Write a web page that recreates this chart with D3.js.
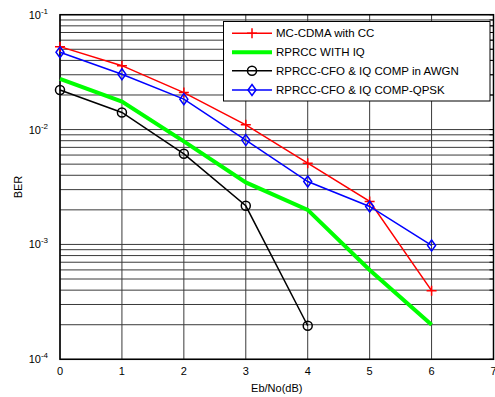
<!DOCTYPE html>
<html>
<head>
<meta charset="utf-8">
<script src="https://cdn.jsdelivr.net/npm/d3@7"></script>
<style>
  body { margin: 0; background: #fff; }
  text { font-family: 'Liberation Sans', Arial, sans-serif; }
</style>
</head>
<body>
<svg width="495" height="397"></svg>
<script>
const svg = d3.select('svg');

const snr = [0, 1, 2, 3, 4, 5, 6];
const mcCdma = [0.0527, 0.036, 0.021, 0.011, 0.0051, 0.00237, 0.000396];
const rprccIq = [0.0276, 0.0175, 0.0079, 0.00347, 0.0020, 0.0006, 0.0002];
const rprccAwgn = [0.0221, 0.0141, 0.00615, 0.00217, 0.000196];
const rprccQpsk = [0.0471, 0.0303, 0.0184, 0.0081, 0.00353, 0.00214, 0.00098];

const xTicks = [0, 1, 2, 3, 4, 5, 6, 7];
const yDecades = [-4, -3, -2, -1];

const series = [
  { name: 'MC-CDMA with CC', values: mcCdma, color: '#ff0000', width: 1.5, marker: 'plus' },
  { name: 'RPRCC WITH IQ', values: rprccIq, color: '#00ff00', width: 4, marker: 'none' },
  { name: 'RPRCC-CFO & IQ COMP in AWGN', values: rprccAwgn, color: '#000000', width: 1.5, marker: 'circle' },
  { name: 'RPRCC-CFO & IQ COMP-QPSK', values: rprccQpsk, color: '#0000ff', width: 1.5, marker: 'diamond' }
];

const margin = { left: 60, top: 14.7, right: 493.5, bottom: 359.3 };

const xScale = d3.scaleLinear().domain([0, 7]).range([margin.left, margin.right]);
const yScale = d3.scaleLog().domain([1e-4, 1e-1]).range([margin.bottom, margin.top]);

const g = svg.append('g');

// grid
const minorVals = [];
yDecades.slice(0, 3).forEach(e => {
  for (let m = 1; m <= 9; m++) minorVals.push(m * Math.pow(10, e));
});
minorVals.push(1e-1);

g.selectAll('line.hgrid').data(minorVals).join('line')
  .attr('class', 'hgrid')
  .attr('x1', margin.left).attr('x2', margin.right)
  .attr('y1', d => yScale(d)).attr('y2', d => yScale(d))
  .attr('stroke', '#3a3a3a').attr('stroke-width', 1);

g.selectAll('line.vgrid').data(xTicks).join('line')
  .attr('class', 'vgrid')
  .attr('x1', d => xScale(d)).attr('x2', d => xScale(d))
  .attr('y1', margin.top).attr('y2', margin.bottom)
  .attr('stroke', '#3a3a3a').attr('stroke-width', 1);

// tick marks on all sides (inward)
g.selectAll('line.ytickR').data(minorVals).join('line')
  .attr('x1', margin.right - 4).attr('x2', margin.right)
  .attr('y1', d => yScale(d)).attr('y2', d => yScale(d))
  .attr('stroke', '#000');

// box
g.append('rect')
  .attr('x', margin.left).attr('y', margin.top)
  .attr('width', margin.right - margin.left)
  .attr('height', margin.bottom - margin.top)
  .attr('fill', 'none').attr('stroke', '#000').attr('stroke-width', 1.5);

// x tick labels
g.selectAll('text.xt').data(xTicks).join('text')
  .attr('x', d => xScale(d)).attr('y', margin.bottom + 16)
  .attr('text-anchor', 'middle').attr('font-size', 11)
  .text(d => d);

// y tick labels
const yt = g.selectAll('text.yt').data(yDecades).join('text')
  .attr('x', margin.left - 12).attr('y', d => yScale(Math.pow(10, d)) + 4)
  .attr('text-anchor', 'end').attr('font-size', 11);
yt.append('tspan').text('10');
yt.append('tspan').attr('dy', -5).attr('font-size', 8).text(d => d);

// axis labels
svg.append('text')
  .attr('x', (margin.left + margin.right) / 2).attr('y', 392)
  .attr('text-anchor', 'middle').attr('font-size', 11)
  .text('Eb/No(dB)');
svg.append('text')
  .attr('transform', `translate(22,${(margin.top + margin.bottom) / 2}) rotate(-90)`)
  .attr('text-anchor', 'middle').attr('font-size', 11)
  .text('BER');

// lines
const line = d3.line().x((d, i) => xScale(snr[i])).y(d => yScale(d));

const drawMarker = (sel, s, x, y) => {
  if (s.marker === 'plus') {
    sel.append('path').attr('d', `M${x - 5},${y}H${x + 5}M${x},${y - 5}V${y + 5}`)
      .attr('stroke', s.color).attr('stroke-width', 1.5).attr('fill', 'none');
  } else if (s.marker === 'circle') {
    sel.append('circle').attr('cx', x).attr('cy', y).attr('r', 4.5)
      .attr('stroke', s.color).attr('stroke-width', 1.5).attr('fill', 'none');
  } else if (s.marker === 'diamond') {
    sel.append('path').attr('d', `M${x},${y - 5.5}L${x + 4},${y}L${x},${y + 5.5}L${x - 4},${y}Z`)
      .attr('stroke', s.color).attr('stroke-width', 1.5).attr('fill', 'none');
  }
};

series.forEach(s => {
  g.append('path').datum(s.values)
    .attr('d', line)
    .attr('fill', 'none').attr('stroke', s.color).attr('stroke-width', s.width);
  const mg = g.append('g');
  s.values.forEach((v, i) => drawMarker(mg, s, xScale(snr[i]), yScale(v)));
});

// legend
const legend = svg.append('g');
legend.append('rect')
  .attr('x', 223.5).attr('y', 21.5).attr('width', 266.5).attr('height', 79.5)
  .attr('fill', '#fff').attr('stroke', '#000').attr('stroke-width', 1);
const legendY = [33.3, 52.3, 70.7, 90];
series.forEach((s, i) => {
  const y = legendY[i];
  legend.append('line').attr('x1', 232).attr('x2', 272).attr('y1', y).attr('y2', y)
    .attr('stroke', s.color).attr('stroke-width', s.width);
  drawMarker(legend, s, 252, y);
  legend.append('text').attr('x', 276).attr('y', y + 4)
    .attr('font-size', 11.5).text(s.name);
});
</script>
</body>
</html>
